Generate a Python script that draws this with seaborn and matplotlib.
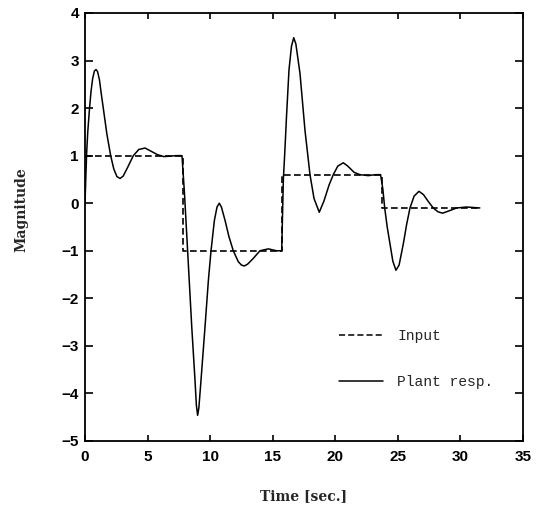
"""Step input vs. plant response, redrawn from a scanned figure."""

import matplotlib

matplotlib.use("Agg")
import matplotlib.pyplot as plt
import pandas as pd
import seaborn as sns

# piecewise constant input (each level held between two switching times)
input_t = [0.0, 7.85, 7.85, 15.75, 15.75, 23.7, 23.7, 31.55]
input_y = [1.0, 1.0, -1.0, -1.0, 0.6, 0.6, -0.1, -0.1]

# plant response
resp_t = [
    0.0, 0.06, 0.13, 0.22, 0.35, 0.48, 0.61, 0.75, 0.88, 1.0, 1.15, 1.3, 1.46,
    1.75, 2.05, 2.3, 2.55, 2.8, 3.05, 3.4, 3.86, 4.3, 4.8, 5.3, 5.8, 6.3, 6.8,
    7.3, 7.75,
    7.95, 8.2, 8.53, 8.79, 8.9, 9.0, 9.1, 9.27, 9.59, 9.86, 10.07, 10.34, 10.55,
    10.73, 10.9, 11.19, 11.5, 11.85, 12.25, 12.5, 12.73, 13.0, 13.45, 13.98,
    14.65, 15.3, 15.72,
    15.85, 15.96, 16.1, 16.3, 16.5, 16.68, 16.85, 17.18, 17.58, 17.98, 18.3,
    18.72, 19.1, 19.5, 19.84, 20.2, 20.64, 21.0, 21.5, 21.97, 22.64, 23.2, 23.62,
    23.8, 23.95, 24.15, 24.37, 24.6, 24.85, 25.1, 25.44, 25.7, 25.97, 26.3,
    26.69, 27.05, 27.45, 27.83, 28.2, 28.58, 29.1, 29.7, 30.5, 31.55,
]
resp_y = [
    0.0, 0.5, 1.05, 1.5, 1.96, 2.35, 2.62, 2.78, 2.81, 2.77, 2.6, 2.3, 2.0,
    1.45, 1.0, 0.72, 0.56, 0.52, 0.57, 0.75, 1.0, 1.13, 1.16, 1.09, 1.02, 0.98,
    0.99, 1.0, 1.0,
    0.2, -1.0, -2.6, -3.72, -4.25, -4.46, -4.3, -3.72, -2.6, -1.62, -1.0, -0.36,
    -0.08, 0.0, -0.08, -0.36, -0.7, -1.0, -1.23, -1.3, -1.32, -1.28, -1.16,
    -1.0, -0.96, -1.0, -1.0,
    0.5, 1.04, 1.81, 2.8, 3.3, 3.48, 3.35, 2.73, 1.53, 0.6, 0.1,
    -0.19, 0.05, 0.38, 0.6, 0.78, 0.85, 0.78, 0.65, 0.6, 0.58, 0.6, 0.6,
    0.3, -0.1, -0.5, -0.85, -1.22, -1.41, -1.3, -0.85, -0.45, -0.1, 0.15,
    0.25, 0.18, 0.03, -0.1, -0.18, -0.21, -0.16, -0.1, -0.08, -0.1,
]

x_ticks = [0, 5, 10, 15, 20, 25, 30, 35]
y_ticks = [-5, -4, -3, -2, -1, 0, 1, 2, 3, 4]


def main() -> None:
    sns.set_style("ticks")
    plt.rcParams["font.family"] = ["Liberation Sans", "DejaVu Sans"]

    inp = pd.DataFrame({"t": input_t, "y": input_y})
    resp = pd.DataFrame({"t": resp_t, "y": resp_y})

    fig = plt.figure(figsize=(5.36, 5.09), dpi=100)
    ax = fig.add_axes([0.1586, 0.1336, 0.8171, 0.8409])

    sns.lineplot(data=inp, x="t", y="y", estimator=None, sort=False, ax=ax,
                 color="black", linewidth=1.2, linestyle=(0, (4, 2)), label="Input")
    sns.lineplot(data=resp, x="t", y="y", estimator=None, sort=False, ax=ax,
                 color="black", linewidth=1.1, label="Plant resp.")

    ax.set_xlim(0, 35)
    ax.set_ylim(-5, 4)
    ax.set_xticks(x_ticks)
    ax.set_yticks(y_ticks)
    ax.tick_params(axis="both", direction="in", top=True, right=True,
                   width=1.2, labelsize=11, colors="black")
    ax.tick_params(axis="x", length=4, pad=6.5)
    ax.tick_params(axis="y", length=6, pad=4.5)
    for label in ax.get_xticklabels() + ax.get_yticklabels():
        label.set_fontweight("bold")
    for spine in ax.spines.values():
        spine.set_linewidth(1.3)
        spine.set_color("black")

    label_font = dict(family="DejaVu Serif", fontweight="bold", fontsize=10)
    ax.set_xlabel("Time [sec.]", labelpad=18, **label_font)
    ax.set_ylabel("Magnitude", **label_font)
    ax.yaxis.set_label_coords(-0.13, 0.54)

    leg = ax.legend(loc="upper left", bbox_to_anchor=(0.55, 0.292), frameon=False,
                    handlelength=3.0, handletextpad=1.0, labelspacing=2.2,
                    prop={"family": "Liberation Mono", "size": 10.5})
    for line in leg.get_lines():
        line.set_linewidth(1.1)

    fig.savefig("out.png", dpi=100)
    plt.close(fig)


if __name__ == "__main__":
    main()
